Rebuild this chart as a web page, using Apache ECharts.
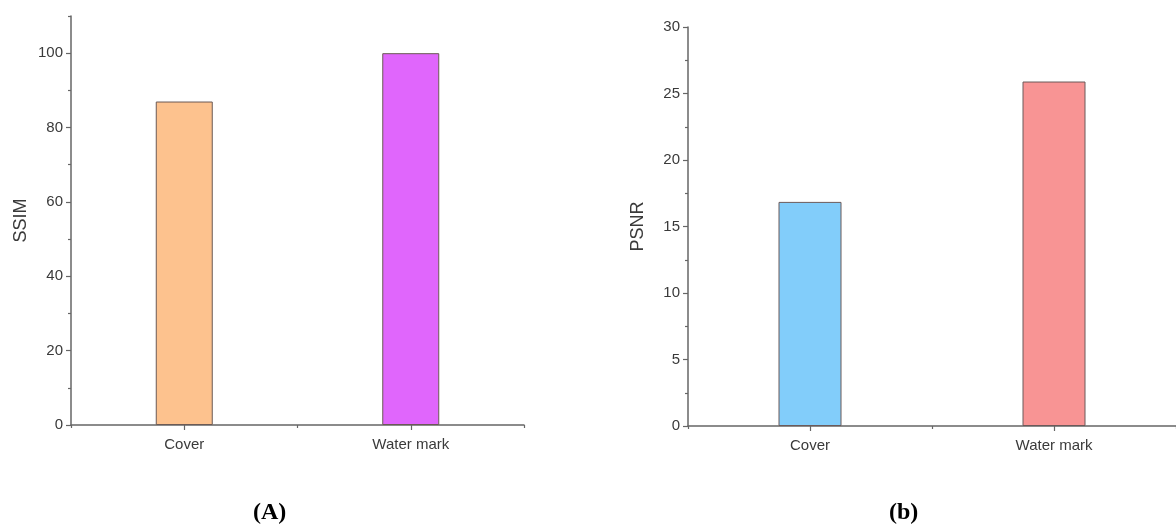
<!DOCTYPE html>
<html>
<head>
<meta charset="utf-8">
<script src="https://cdn.jsdelivr.net/npm/echarts@6/dist/echarts.min.js"></script>
<style>
html,body{margin:0;padding:0;background:#fff;}
#chart{width:1176px;height:524px;}
</style>
</head>
<body>
<div id="chart"></div>
<script>
const categories = ['Cover', 'Water mark'];
const ssimValues = [87, 100];
const psnrValues = [16.85, 25.9];
const ssimColors = ['#FDC28E', '#E066FC'];
const psnrColors = ['#82CDFA', '#F89494'];
const ssimTicks = [0, 20, 40, 60, 80, 100];
const ssimMinorTicks = [10, 30, 50, 70, 90, 110];
const psnrTicks = [0, 5, 10, 15, 20, 25, 30];
const psnrMinorTicks = [2.5, 7.5, 12.5, 17.5, 22.5, 27.5];
const captions = ['(A)', '(b)'];

const FONT = 'Liberation Sans, Arial, sans-serif';
const AXIS_COLOR = '#666';
const LABEL_COLOR = '#3a3a3a';

function mainY(gridIndex, name, max, ticks) {
  return {
    type: 'value', gridIndex, position: 'left', min: 0, max,
    name, nameLocation: 'middle', nameGap: 41,
    nameTextStyle: {fontFamily: FONT, fontSize: 18, color: LABEL_COLOR},
    axisLine: {show: true, lineStyle: {color: AXIS_COLOR, width: 1.5}},
    axisTick: {show: true, length: 5, customValues: ticks, lineStyle: {color: AXIS_COLOR, width: 1.2}},
    axisLabel: {show: true, margin: 8, customValues: ticks, fontFamily: FONT, fontSize: 15, color: LABEL_COLOR},
    splitLine: {show: false}
  };
}
function minorY(gridIndex, max, ticks) {
  return {
    type: 'value', gridIndex, position: 'left', offset: 0, min: 0, max,
    axisLine: {show: false},
    axisTick: {show: true, length: 3, customValues: ticks, lineStyle: {color: AXIS_COLOR, width: 1.2}},
    axisLabel: {show: false},
    splitLine: {show: false}
  };
}
function mainX(gridIndex) {
  return {
    type: 'category', gridIndex, position: 'bottom', data: categories,
    axisLine: {show: true, lineStyle: {color: AXIS_COLOR, width: 1.5}},
    axisTick: {show: true, alignWithLabel: true, length: 5, lineStyle: {color: AXIS_COLOR, width: 1.2}},
    axisLabel: {margin: 12, fontFamily: FONT, fontSize: 15, color: LABEL_COLOR},
    splitLine: {show: false}
  };
}
function minorX(gridIndex) {
  return {
    type: 'category', gridIndex, position: 'bottom', offset: 0, data: categories,
    axisLine: {show: false},
    axisTick: {show: true, length: 3, lineStyle: {color: AXIS_COLOR, width: 1.2}},
    axisLabel: {show: false},
    splitLine: {show: false}
  };
}
function barData(values, colors) {
  return values.map((v, i) => ({value: v, itemStyle: {color: colors[i]}}));
}

const chart = echarts.init(document.getElementById('chart'), null, {renderer: 'canvas'});
chart.setOption({
  animation: false,
  backgroundColor: '#fff',
  title: [
    {text: captions[0], left: 253, top: 501, padding: 0,
     textStyle: {fontFamily: 'Liberation Serif, Times New Roman, serif', fontWeight: 'bold', fontSize: 24, color: '#000'}},
    {text: captions[1], left: 889, top: 501, padding: 0,
     textStyle: {fontFamily: 'Liberation Serif, Times New Roman, serif', fontWeight: 'bold', fontSize: 24, color: '#000'}}
  ],
  grid: [
    {left: 71, top: 16, width: 453, height: 409},
    {left: 688, top: 27, width: 494, height: 399}
  ],
  xAxis: [mainX(0), minorX(0), mainX(1), minorX(1)],
  yAxis: [
    mainY(0, 'SSIM', 110, ssimTicks), minorY(0, 110, ssimMinorTicks),
    mainY(1, 'PSNR', 30, psnrTicks), minorY(1, 30, psnrMinorTicks)
  ],
  series: [
    {type: 'bar', xAxisIndex: 0, yAxisIndex: 0, barWidth: 57,
     itemStyle: {borderColor: '#6b5a55', borderWidth: 1},
     data: barData(ssimValues, ssimColors)},
    {type: 'bar', xAxisIndex: 2, yAxisIndex: 2, barWidth: 63,
     itemStyle: {borderColor: '#6b5a5a', borderWidth: 1},
     data: barData(psnrValues, psnrColors)}
  ]
});
</script>
</body>
</html>
